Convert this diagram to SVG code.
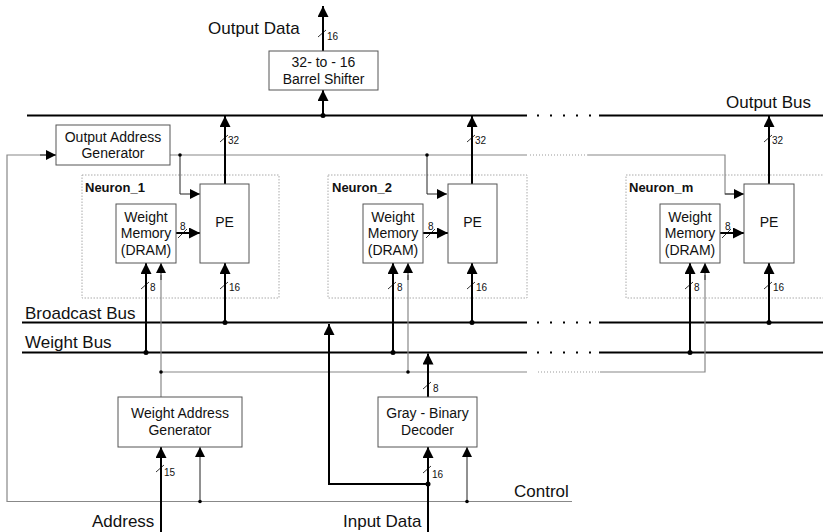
<svg xmlns="http://www.w3.org/2000/svg" width="823" height="532" viewBox="0 0 823 532">
<style>
.thick{stroke:#000;stroke-width:2;fill:none}
.thin{stroke:#222;stroke-width:1;fill:none}
.gray{stroke:#888;stroke-width:1.2;fill:none}
.gdot{stroke:#999;stroke-width:1;fill:none;stroke-dasharray:1 2}
.bdots{stroke:#000;stroke-width:2;fill:none;stroke-dasharray:2 11}
.box{fill:#fff;stroke:#555;stroke-width:1}
.nbox{fill:none;stroke:#aaa;stroke-width:1;stroke-dasharray:1.5 1.5}
.tick{stroke:#000;stroke-width:0.8}
text{font-family:"Liberation Sans",Arial,sans-serif;fill:#111}
.lbl{font-size:14px;text-anchor:middle}
.big{font-size:17px}
.sm{font-size:10px}
.nl{font-size:13px;font-weight:bold}
.dot{fill:#000}
</style>
<defs>
<marker id="ah" viewBox="0 0 10 10" refX="10" refY="5" markerWidth="11" markerHeight="11" markerUnits="userSpaceOnUse" orient="auto">
<path d="M0,0 L10,5 L0,10 z" fill="#000"/>
</marker>
<marker id="ahs" viewBox="0 0 10 10" refX="10" refY="5" markerWidth="10" markerHeight="10" markerUnits="userSpaceOnUse" orient="auto">
<path d="M0,0 L10,5 L0,10 z" fill="#000"/>
</marker>
</defs>

<g id="neuron_1_frame"><rect class="nbox" x="82" y="175" width="197" height="123"/><text class="nl" x="85" y="192">Neuron_1</text></g>
<g id="neuron_2_frame"><rect class="nbox" x="328" y="175" width="199" height="123"/><text class="nl" x="332" y="192">Neuron_2</text></g>
<g id="neuron_m_frame"><rect class="nbox" x="626" y="175" width="210" height="123"/><text class="nl" x="629" y="192">Neuron_m</text></g>

<g id="connectors">
<!-- buses -->
<line class="thick" x1="27" y1="115.5" x2="527" y2="115.5"/>
<line class="bdots" x1="537" y1="115.5" x2="592" y2="115.5"/>
<line class="thick" x1="599" y1="115.5" x2="823" y2="115.5"/>
<line class="thick" x1="22" y1="322.5" x2="527" y2="322.5"/>
<line class="bdots" x1="537" y1="322.5" x2="592" y2="322.5"/>
<line class="thick" x1="599" y1="322.5" x2="823" y2="322.5"/>
<line class="thick" x1="22" y1="352.5" x2="527" y2="352.5"/>
<line class="bdots" x1="537" y1="352.5" x2="592" y2="352.5"/>
<line class="thick" x1="599" y1="352.5" x2="823" y2="352.5"/>

<!-- output address line -->
<line class="gray" x1="170" y1="155" x2="527" y2="155"/>
<line class="gdot" x1="530" y1="155" x2="588" y2="155"/>
<path class="gray" d="M588,155 H725 V194 H736"/>
<path class="thin" d="M725,194 H744" marker-end="url(#ahs)"/>
<path class="thin" d="M180,155 V194 H200" marker-end="url(#ahs)"/>
<path class="thin" d="M427,155 V194 H447" marker-end="url(#ahs)"/>
<circle class="dot" cx="180" cy="155" r="1.8"/>
<circle class="dot" cx="427" cy="155" r="1.8"/>

<!-- control -->
<path class="gray" d="M56,155 H7 V501.5 H572"/>
<path class="thin" d="M40,155 H56" marker-end="url(#ahs)"/>
<path class="thin" d="M200,501.5 V447" marker-end="url(#ahs)"/>
<path class="thin" d="M467,501.5 V447" marker-end="url(#ahs)"/>
<circle class="dot" cx="200" cy="501.5" r="1.8"/>
<circle class="dot" cx="467" cy="501.5" r="1.8"/>

<!-- weight address line -->
<line class="gray" x1="161" y1="372" x2="527" y2="372"/>
<line class="gdot" x1="538" y1="372" x2="600" y2="372"/>
<path class="gray" d="M600,372 H705 V275"/>
<path class="gray" d="M161,397 V275"/>
<path class="gray" d="M408,372 V275"/>
<path class="thin" d="M161,280 V263" marker-end="url(#ahs)"/>
<path class="thin" d="M408,280 V263" marker-end="url(#ahs)"/>
<path class="thin" d="M705,280 V263" marker-end="url(#ahs)"/>
<circle class="dot" cx="161" cy="372" r="1.8"/>
<circle class="dot" cx="408" cy="372" r="1.8"/>

<!-- barrel shifter -->
<path class="thick" d="M323,115.5 V90" marker-end="url(#ah)"/>
<path class="thick" d="M323,51 V6" marker-end="url(#ah)"/>
<circle class="dot" cx="323" cy="115.5" r="2.5"/>
<line class="tick" x1="318" y1="37" x2="326" y2="30"/><text class="sm" x="327" y="40">16</text>

<!-- PE outputs -->
<path class="thick" d="M225,184 V116" marker-end="url(#ah)"/>
<path class="thick" d="M472,184 V116" marker-end="url(#ah)"/>
<path class="thick" d="M769,184 V116" marker-end="url(#ah)"/>
<line class="tick" x1="220" y1="142" x2="228" y2="135"/><text class="sm" x="228" y="144">32</text>
<line class="tick" x1="467" y1="142" x2="475" y2="135"/><text class="sm" x="475" y="144">32</text>
<line class="tick" x1="764" y1="142" x2="772" y2="135"/><text class="sm" x="772" y="144">32</text>

<!-- WM to PE -->
<path class="thick" d="M175.5,233 H200" marker-end="url(#ah)"/>
<path class="thick" d="M423,233 H448" marker-end="url(#ah)"/>
<path class="thick" d="M720,233 H744" marker-end="url(#ah)"/>
<line class="tick" x1="178" y1="238" x2="187" y2="229"/><text class="sm" x="180" y="230">8</text>
<line class="tick" x1="426" y1="238" x2="435" y2="229"/><text class="sm" x="428" y="230">8</text>
<line class="tick" x1="722" y1="238" x2="731" y2="229"/><text class="sm" x="725" y="230">8</text>

<!-- weight bus to WM -->
<path class="thick" d="M146,352.5 V263" marker-end="url(#ah)"/>
<path class="thick" d="M393,352.5 V263" marker-end="url(#ah)"/>
<path class="thick" d="M690,352.5 V263" marker-end="url(#ah)"/>
<circle class="dot" cx="146" cy="352.5" r="2.5"/>
<circle class="dot" cx="393" cy="352.5" r="2.5"/>
<circle class="dot" cx="690" cy="352.5" r="2.5"/>
<line class="tick" x1="141" y1="289" x2="149" y2="282"/><text class="sm" x="150" y="291">8</text>
<line class="tick" x1="388" y1="289" x2="396" y2="282"/><text class="sm" x="397" y="291">8</text>
<line class="tick" x1="685" y1="289" x2="693" y2="282"/><text class="sm" x="694" y="291">8</text>

<!-- broadcast bus to PE -->
<path class="thick" d="M225,322.5 V263" marker-end="url(#ah)"/>
<path class="thick" d="M472,322.5 V263" marker-end="url(#ah)"/>
<path class="thick" d="M769,322.5 V263" marker-end="url(#ah)"/>
<circle class="dot" cx="225" cy="322.5" r="2.5"/>
<circle class="dot" cx="472" cy="322.5" r="2.5"/>
<circle class="dot" cx="769" cy="322.5" r="2.5"/>
<line class="tick" x1="220" y1="289" x2="228" y2="282"/><text class="sm" x="229" y="291">16</text>
<line class="tick" x1="467" y1="289" x2="475" y2="282"/><text class="sm" x="476" y="291">16</text>
<line class="tick" x1="764" y1="289" x2="772" y2="282"/><text class="sm" x="773" y="291">16</text>

<!-- input data / decoder -->
<path class="thick" d="M428,532 V447" marker-end="url(#ah)"/>
<path class="thick" d="M428,484 H329 V324" marker-end="url(#ah)"/>
<circle class="dot" cx="428" cy="484" r="2.5"/>
<line class="tick" x1="423" y1="473" x2="431" y2="466"/><text class="sm" x="432" y="478">16</text>
<path class="thick" d="M428,397 V353.5" marker-end="url(#ah)"/>
<line class="tick" x1="423" y1="389" x2="431" y2="382"/><text class="sm" x="433" y="392">8</text>

<!-- address -->
<path class="thick" d="M161,532 V447" marker-end="url(#ah)"/>
<line class="tick" x1="156" y1="472" x2="164" y2="465"/><text class="sm" x="164" y="476">15</text>
</g>

<g id="barrel_shifter"><rect class="box" x="269" y="51" width="109" height="39"/><text class="lbl" x="323.5" y="67">32- to - 16</text><text class="lbl" x="323.5" y="84">Barrel Shifter</text></g>
<g id="output_address_generator"><rect class="box" x="56" y="125" width="114" height="40"/><text class="lbl" x="113" y="142">Output Address</text><text class="lbl" x="113" y="158">Generator</text></g>

<g id="wm_1"><rect class="box" x="116" y="204" width="60" height="59"/><text class="lbl" x="146" y="222">Weight</text><text class="lbl" x="146" y="238">Memory</text><text class="lbl" x="146" y="255">(DRAM)</text></g>
<g id="pe_1"><rect class="box" x="200" y="184" width="49" height="79"/><text class="lbl" x="224.5" y="227">PE</text></g>
<g id="wm_2"><rect class="box" x="363" y="204" width="60" height="59"/><text class="lbl" x="393" y="222">Weight</text><text class="lbl" x="393" y="238">Memory</text><text class="lbl" x="393" y="255">(DRAM)</text></g>
<g id="pe_2"><rect class="box" x="448" y="184" width="49" height="79"/><text class="lbl" x="472.5" y="227">PE</text></g>
<g id="wm_m"><rect class="box" x="660" y="204" width="60" height="59"/><text class="lbl" x="690" y="222">Weight</text><text class="lbl" x="690" y="238">Memory</text><text class="lbl" x="690" y="255">(DRAM)</text></g>
<g id="pe_m"><rect class="box" x="744" y="184" width="50" height="79"/><text class="lbl" x="769" y="227">PE</text></g>

<g id="weight_address_generator"><rect class="box" x="118" y="397" width="124" height="50"/><text class="lbl" x="180" y="418">Weight Address</text><text class="lbl" x="180" y="435">Generator</text></g>
<g id="gray_binary_decoder"><rect class="box" x="378" y="397" width="99" height="50"/><text class="lbl" x="427.5" y="418">Gray - Binary</text><text class="lbl" x="427.5" y="435">Decoder</text></g>

<g id="labels">
<text class="big" x="208" y="34">Output Data</text>
<text class="big" x="726" y="108">Output Bus</text>
<text class="big" x="25" y="319">Broadcast Bus</text>
<text class="big" x="25" y="348">Weight Bus</text>
<text class="big" x="514" y="497">Control</text>
<text class="big" x="92" y="527">Address</text>
<text class="big" x="343" y="527">Input Data</text>
</g>
</svg>
